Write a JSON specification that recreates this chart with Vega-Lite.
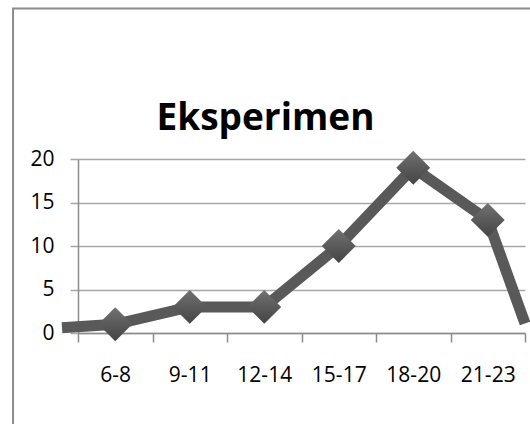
{
  "$schema": "https://vega.github.io/schema/vega-lite/v6.json",
  "width": 447,
  "height": 174,
  "autosize": {"type": "none"},
  "padding": {"left": 78, "top": 159, "right": 5, "bottom": 91},
  "background": "white",
  "config": {
    "view": {"stroke": null},
    "font": "Open Sans"
  },
  "title": {
    "text": "Eksperimen",
    "font": "Open Sans",
    "fontSize": 37,
    "fontWeight": "bold",
    "color": "#000000",
    "anchor": "middle",
    "frame": "group",
    "dx": -36,
    "baseline": "alphabetic",
    "offset": -160
  },
  "datasets": {
    "series": [
      {"pos": 0.285, "label": "", "value": 0.6},
      {"pos": 1, "label": "6-8", "value": 1},
      {"pos": 2, "label": "9-11", "value": 3},
      {"pos": 3, "label": "12-14", "value": 3},
      {"pos": 4, "label": "15-17", "value": 10},
      {"pos": 5, "label": "18-20", "value": 19},
      {"pos": 6, "label": "21-23", "value": 13},
      {"pos": 6.5, "label": "", "value": 1.1}
    ]
  },
  "layer": [
    {
      "data": {"name": "series"},
      "mark": {"type": "line", "color": "#595959", "strokeWidth": 11, "clip": false, "strokeJoin": "miter"},
      "encoding": {
        "x": {
          "field": "pos",
          "type": "quantitative",
          "scale": {"domain": [0.5, 6.5], "nice": false, "zero": false},
          "axis": {
            "values": [0.5, 1.5, 2.5, 3.5, 4.5, 5.5, 6.5],
            "labelExpr": "datum.value == 0.5 ? '6-8' : datum.value == 1.5 ? '9-11' : datum.value == 2.5 ? '12-14' : datum.value == 3.5 ? '15-17' : datum.value == 4.5 ? '18-20' : datum.value == 5.5 ? '21-23' : ''",
            "labelOffset": 37.25,
            "labelBound": false,
            "labelOverlap": false,
            "labelFlush": false,
            "grid": false,
            "domainColor": "#8c8c8c",
            "domainWidth": 1.5,
            "tickColor": "#8c8c8c",
            "tickWidth": 1.5,
            "tickSize": 9,
            "labelFont": "Open Sans",
            "labelFontSize": 21,
            "labelColor": "#000000",
            "labelPadding": 22,
            "title": null
          }
        },
        "y": {
          "field": "value",
          "type": "quantitative",
          "scale": {"domain": [0, 20], "nice": false},
          "axis": {
            "values": [0, 5, 10, 15, 20],
            "grid": true,
            "gridColor": "#a6a6a6",
            "gridWidth": 1.5,
            "domainColor": "#8c8c8c",
            "domainWidth": 1.5,
            "tickColor": "#a6a6a6",
            "tickWidth": 1.5,
            "tickSize": 8,
            "labelFont": "Open Sans",
            "labelFontSize": 21,
            "labelColor": "#000000",
            "labelPadding": 16,
            "title": null
          }
        }
      }
    },
    {
      "data": {"name": "series"},
      "transform": [{"filter": "datum.label != ''"}],
      "mark": {
        "type": "point",
        "shape": "diamond",
        "size": 1150,
        "filled": true,
        "opacity": 1,
        "clip": false,
        "fill": {
          "gradient": "linear",
          "x1": 0, "y1": 0, "x2": 0, "y2": 1,
          "stops": [
            {"offset": 0, "color": "#727272"},
            {"offset": 0.5, "color": "#5a5a5a"},
            {"offset": 1, "color": "#444444"}
          ]
        }
      },
      "encoding": {
        "x": {"field": "pos", "type": "quantitative"},
        "y": {"field": "value", "type": "quantitative"}
      }
    },
    {
      "data": {"values": [{}]},
      "mark": {"type": "rect", "fill": null, "fillOpacity": 0, "stroke": "#8c8c8c", "strokeWidth": 2, "clip": false},
      "encoding": {
        "x": {"datum": -0.372},
        "x2": {"datum": 8},
        "y": {"datum": 37.3},
        "y2": {"datum": -14}
      }
    }
  ]
}
